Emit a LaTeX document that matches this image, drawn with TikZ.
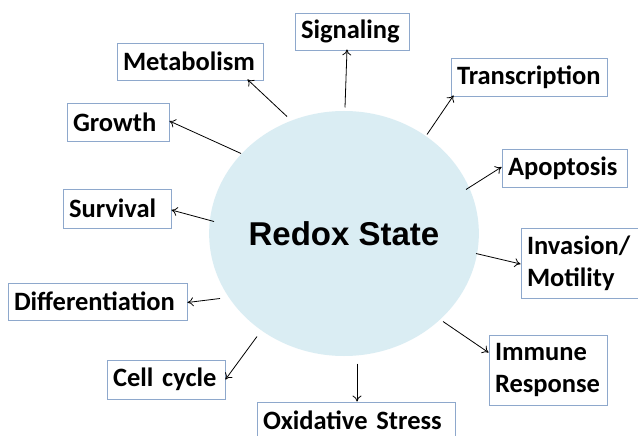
\documentclass[tikz,border=0pt]{standalone}
\usepackage{fontspec}
\setmainfont{Carlito}
\newfontfamily\arialfont{Liberation Sans}
\usetikzlibrary{shapes.geometric,calc,arrows.meta}
\definecolor{circfill}{HTML}{DAEDF3}
\definecolor{boxline}{HTML}{8EA8CC}
\tikzset{
  lbl/.style={draw=boxline, line width=0.9pt, rectangle, inner xsep=6pt, inner ysep=0pt,
    align=left, font=\fontsize{26.5}{32}\selectfont\bfseries},
  conn/.style={line width=0.8pt, -{To[length=6pt,width=9pt]}},
}
\newcommand{\lbox}[6]{% name, x1, y1, x2, y2, text
  \node[lbl, minimum width={(#4-#2)*1pt}, minimum height={(#5-#3)*1pt},
    text width={(#4-#2-12)*1pt}] (#1) at ({(#2+#4)/2},{(#3+#5)/2+1}) {#6};}
\begin{document}
\begin{tikzpicture}[x=1pt,y=-1pt]
\useasboundingbox (0,0) rectangle (638,436);
\fill[white] (0,0) rectangle (638,436);
\node[ellipse, fill=circfill, minimum width=254pt, minimum height=245pt, inner sep=0pt,
  font=\arialfont\fontsize{33}{40}\selectfont\bfseries] (c) at (344,233.5) {Redox State};
\lbox{sig}{295}{12}{409}{49}{Signaling}
\lbox{met}{117}{42}{263}{79}{Metabolism}
\lbox{gro}{67}{102}{169}{140}{Growth}
\lbox{tra}{451}{57}{607}{95}{Transcription}
\lbox{apo}{502}{148}{627}{186}{Apoptosis}
\lbox{inv}{521}{227}{646}{297}{Invasion/\\Motility}
\lbox{sur}{63}{188}{171}{227}{Survival}
\lbox{dif}{8}{282}{187}{319}{Differentiation}
\lbox{cel}{107}{359}{225}{398}{Cell cycle}
\lbox{oxi}{257}{401}{455}{437}{Oxidative Stress}
\lbox{imm}{489}{334}{607}{404}{Immune\\Response}
\draw[conn] ($(c.center)+(1pt,126pt)$) -- ([xshift=-5pt,yshift=1pt]sig.south);
\draw[conn] ($(c.center)+(-57pt,117pt)$) -- ([xshift=-16pt,yshift=1pt]met.south east);
\draw[conn] ($(c.center)+(-103pt,80pt)$) -- ([yshift=1pt]gro.east);
\draw[conn] ($(c.center)+(83pt,99pt)$) -- ([xshift=3pt,yshift=1pt]tra.south west);
\draw[conn] ($(c.center)+(122pt,44pt)$) -- ([yshift=1pt]apo.west);
\draw[conn] ($(c.center)+(132pt,-20pt)$) -- ([yshift=-1pt]inv.west);
\draw[conn] ($(c.center)+(-130pt,12pt)$) -- ([yshift=-1.5pt]sur.east);
\draw[conn] ($(c.center)+(-124pt,-65pt)$) -- ([yshift=-1pt]dif.east);
\draw[conn] ($(c.center)+(-87pt,-103pt)$) -- ([yshift=0pt]cel.east);
\draw[conn] ($(c.center)+(13pt,-130pt)$) -- ([xshift=1pt]oxi.north);
\draw[conn] ($(c.center)+(99pt,-88pt)$) -- ([yshift=-18pt]imm.north west);
\end{tikzpicture}
\end{document}
